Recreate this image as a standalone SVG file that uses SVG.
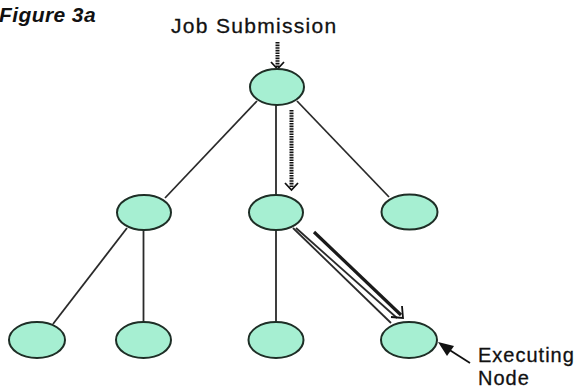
<svg xmlns="http://www.w3.org/2000/svg" width="583" height="390" viewBox="0 0 583 390">
<style>
.node ellipse{fill:#a6efd2;stroke:#1e2e26;stroke-width:2}
.edge{stroke:#2a2a2a;stroke-width:1.8;fill:none}
.dash{stroke:#111;stroke-width:4;stroke-dasharray:1.6 1;fill:none}
.head{stroke:#111;stroke-width:1.8;fill:none}
.lbl{font-family:"Liberation Sans",Arial,sans-serif;fill:#111}
</style>
<rect width="583" height="390" fill="#fff"/>
<text class="lbl" x="-1" y="22" font-size="21" font-weight="bold" font-style="italic" letter-spacing="0.4">Figure 3a</text>
<text class="lbl" x="171" y="33" font-size="21" letter-spacing="1.3" stroke="#111" stroke-width="0.3">Job Submission</text>
<text class="lbl" x="478" y="362" font-size="20" letter-spacing="1" stroke="#111" stroke-width="0.3">Executing</text>
<text class="lbl" x="478" y="385" font-size="20" letter-spacing="1" stroke="#111" stroke-width="0.3">Node</text>
<g id="connectors">
<line class="edge" x1="257" y1="101" x2="165" y2="198"/>
<line class="edge" x1="276" y1="105" x2="276" y2="195"/>
<line class="edge" x1="297" y1="101" x2="389" y2="197"/>
<line class="edge" x1="127" y1="228" x2="53" y2="324"/>
<line class="edge" x1="143.5" y1="230" x2="143.5" y2="322"/>
<line class="edge" x1="276" y1="230" x2="276" y2="322"/>
<line class="edge" stroke-width="1.4" x1="293" y1="228" x2="391" y2="323"/>
<line class="edge" stroke-width="1.2" x1="296" y1="228" x2="397" y2="318"/>
<line stroke="#1a1a1a" stroke-width="3.2" x1="314" y1="232" x2="401" y2="315"/>
<polyline class="head" points="391,317 403,318 402,306"/>
<line class="dash" x1="277.5" y1="42" x2="277.5" y2="67"/>
<polyline class="head" points="271,62 277.5,69 284,62"/>
<line class="dash" x1="291.5" y1="110" x2="291.5" y2="188"/>
<polyline class="head" points="285,183 291.5,190 298,183"/>
<line stroke="#111" stroke-width="1.8" x1="470" y1="363" x2="448" y2="349"/>
<polygon fill="#111" points="438,342 454,346 447,356"/>
</g>
<g id="n-root" class="node"><ellipse cx="277" cy="87" rx="27" ry="18"/></g>
<g id="n-l" class="node"><ellipse cx="144" cy="212.5" rx="27" ry="17.5"/></g>
<g id="n-m" class="node"><ellipse cx="276" cy="212.5" rx="27" ry="17.5"/></g>
<g id="n-r" class="node"><ellipse cx="409.5" cy="212" rx="28" ry="17.5"/></g>
<g id="n-ll" class="node"><ellipse cx="37" cy="340" rx="28" ry="18"/></g>
<g id="n-lm" class="node"><ellipse cx="143.5" cy="340" rx="27.5" ry="18"/></g>
<g id="n-mm" class="node"><ellipse cx="276" cy="340" rx="27.5" ry="18"/></g>
<g id="n-exec" class="node"><ellipse cx="409" cy="340" rx="28" ry="18"/></g>
</svg>
